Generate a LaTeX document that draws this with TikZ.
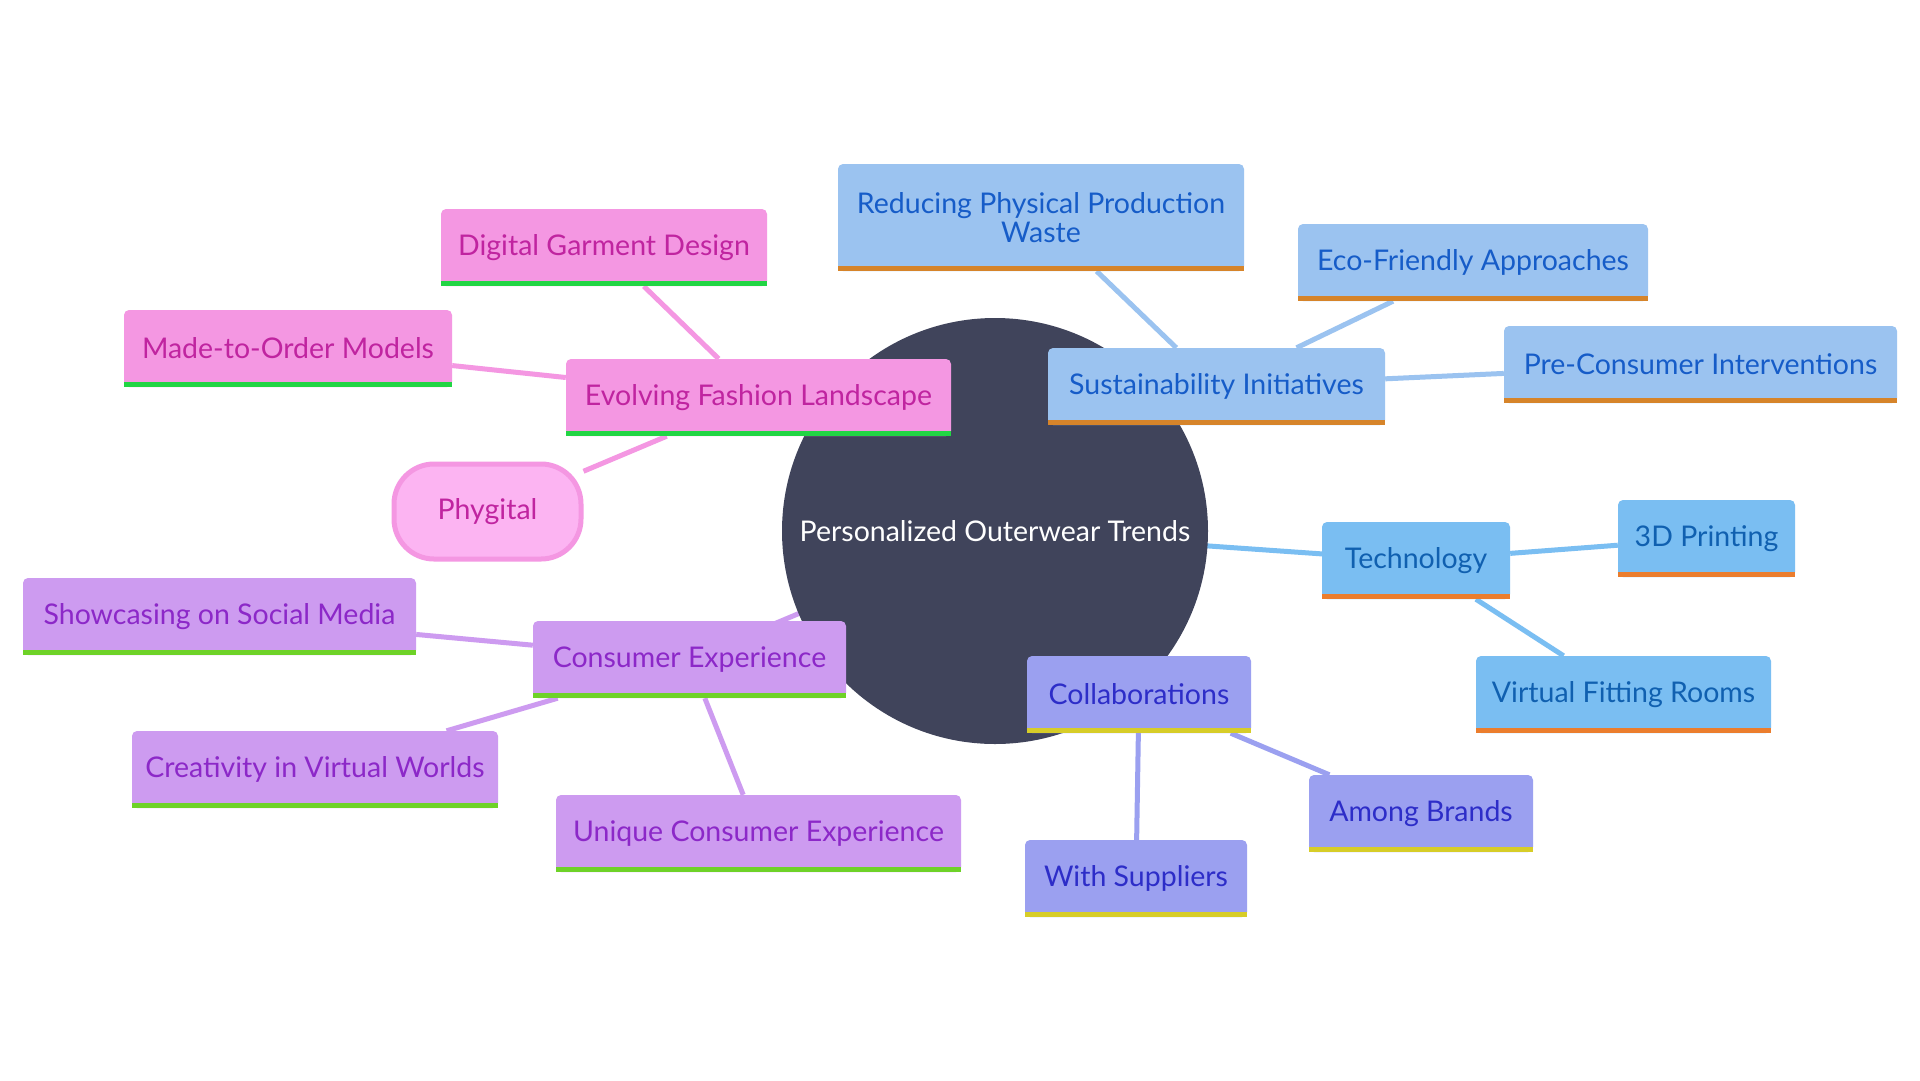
\documentclass[tikz,border=0pt]{standalone}
\usepackage{fontspec}
\setmainfont{Lato}
\usetikzlibrary{backgrounds}
\definecolor{hubfill}{RGB}{64,68,91}
\definecolor{pinkfill}{RGB}{244,151,226}
\definecolor{pinktext}{RGB}{192,36,160}
\definecolor{pinkbar}{RGB}{34,213,68}
\definecolor{phyfill}{RGB}{252,180,242}
\definecolor{susfill}{RGB}{155,195,240}
\definecolor{sustext}{RGB}{22,92,200}
\definecolor{susbar}{RGB}{214,132,42}
\definecolor{tecfill}{RGB}{122,190,242}
\definecolor{tectext}{RGB}{16,96,176}
\definecolor{tecbar}{RGB}{235,125,45}
\definecolor{colfill}{RGB}{155,160,240}
\definecolor{coltext}{RGB}{45,45,200}
\definecolor{colbar}{RGB}{215,205,40}
\definecolor{conffill}{RGB}{205,155,240}
\definecolor{context}{RGB}{140,40,200}
\definecolor{conbar}{RGB}{110,210,40}
\tikzset{
  mmfont/.style={font=\fontsize{28.5}{29.5}\selectfont},
  mmbox/.style={rounded corners=5pt, inner sep=0pt, minimum height=77pt, align=center, mmfont},
  pinkbox/.style={mmbox, fill=pinkfill, text=pinktext},
  susbox/.style={mmbox, fill=susfill, text=sustext},
  tecbox/.style={mmbox, fill=tecfill, text=tectext},
  colbox/.style={mmbox, fill=colfill, text=coltext},
  conbox/.style={mmbox, fill=conffill, text=context},
  pinkedge/.style={draw=pinkfill, line width=5pt},
  susedge/.style={draw=susfill, line width=5pt},
  tecedge/.style={draw=tecfill, line width=5pt},
  coledge/.style={draw=colfill, line width=5pt},
  conedge/.style={draw=conffill, line width=5pt},
}
\begin{document}
\begin{tikzpicture}[x=1pt,y=-1pt]
\useasboundingbox (0,0) rectangle (1920,1080);

\node[circle, fill=hubfill, minimum size=426pt, inner sep=0pt, text=white, mmfont]
  (hub) at (995,531) {Personalized Outerwear Trends};

% Evolving Fashion Landscape branch
\node[pinkbox, minimum width=385pt] (efl) at (758.5,397.5) {Evolving Fashion Landscape};
\node[pinkbox, minimum width=326pt] (dgd) at (604,247.5) {Digital Garment Design};
\node[pinkbox, minimum width=328pt] (mtom) at (288,348.5) {Made-to-Order Models};
\node[mmbox, fill=phyfill, draw=pinkfill, line width=5pt, rounded corners=40pt,
  text=pinktext, minimum width=187pt, minimum height=95pt] (phy) at (487.5,511.5) {Phygital};

% Sustainability branch
\node[susbox, minimum width=337pt] (si) at (1216.5,386.5) {Sustainability Initiatives};
\node[susbox, minimum width=406pt, minimum height=107pt] (rppw) at (1041,217.5) {Reducing Physical Production\\Waste};
\node[susbox, minimum width=350pt] (efa) at (1473,262.5) {Eco-Friendly Approaches};
\node[susbox, minimum width=393pt] (pci) at (1700.5,364.5) {Pre-Consumer Interventions};

% Technology branch
\node[tecbox, minimum width=188pt] (tec) at (1416,560.5) {Technology};
\node[tecbox, minimum width=177pt] (p3d) at (1706.5,538.5) {3D Printing};
\node[tecbox, minimum width=295pt] (vfr) at (1623.5,694.5) {Virtual Fitting Rooms};

% Collaborations branch
\node[colbox, minimum width=224pt] (col) at (1139,694.5) {Collaborations};
\node[colbox, minimum width=224pt] (ab) at (1421,813.5) {Among Brands};
\node[colbox, minimum width=222pt] (ws) at (1136,878.5) {With Suppliers};

% Consumer Experience branch
\node[conbox, minimum width=313pt] (ce) at (689.5,659.5) {Consumer Experience};
\node[conbox, minimum width=405pt] (uce) at (758.5,833.5) {Unique Consumer Experience};
\node[conbox, minimum width=366pt] (civw) at (315,769.5) {Creativity in Virtual Worlds};
\node[conbox, minimum width=393pt] (sosm) at (219.5,616.5) {Showcasing on Social Media};

% bottom bars
\foreach \n/\c in {efl/pinkbar,dgd/pinkbar,mtom/pinkbar,
  si/susbar,rppw/susbar,efa/susbar,pci/susbar,
  tec/tecbar,p3d/tecbar,vfr/tecbar,
  col/colbar,ab/colbar,ws/colbar,
  ce/conbar,uce/conbar,civw/conbar,sosm/conbar}
  \fill[\c] (\n.south west) rectangle ([yshift=5pt]\n.south east);

\begin{scope}[on background layer]
  \fill[white] (0,0) rectangle (1920,1080);
  \draw[pinkedge] (hub.center) -- (efl.center);
  \draw[pinkedge] (efl) -- (dgd);
  \draw[pinkedge] (efl) -- (mtom);
  \draw[pinkedge] (efl) -- (phy);
  \draw[susedge] (hub.center) -- (si.center);
  \draw[susedge] (si) -- (rppw);
  \draw[susedge] (si) -- (efa);
  \draw[susedge] (si) -- (pci);
  \draw[tecedge] (hub.center) -- (tec.center);
  \draw[tecedge] (tec) -- (p3d);
  \draw[tecedge] (tec) -- (vfr);
  \draw[coledge] (hub.center) -- (col.center);
  \draw[coledge] (col) -- (ab);
  \draw[coledge] (col) -- (ws);
  \draw[conedge] (hub.center) -- (ce.center);
  \draw[conedge] (ce) -- (uce);
  \draw[conedge] (ce) -- (civw);
  \draw[conedge] (ce) -- (sosm);
\end{scope}
\end{tikzpicture}
\end{document}
